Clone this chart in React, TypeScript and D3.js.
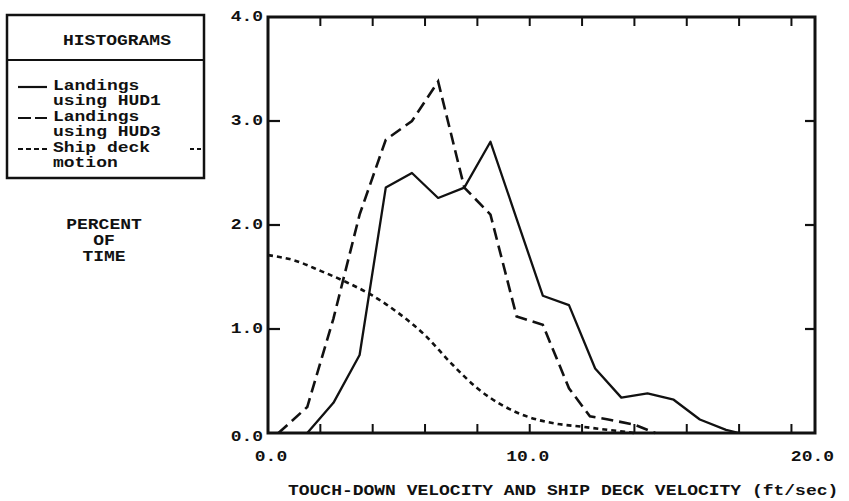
import React from "react";
import * as d3 from "d3";

// HUD1 landings (solid), bin centres
const hud1X = [1.5, 2.5, 3.5, 4.5, 5.5, 6.5, 7.5, 8.5, 9.5, 10.5, 11.5, 12.5, 13.5, 14.5, 15.5, 16.5, 17.5, 18.0];
const hud1Y = [0, 0.29, 0.75, 2.36, 2.5, 2.26, 2.36, 2.8, 2.06, 1.32, 1.23, 0.62, 0.34, 0.38, 0.32, 0.13, 0.03, 0];

// HUD3 landings (dashed)
const hud3X = [0.4, 1.5, 2.5, 3.5, 4.5, 5.5, 6.5, 7.5, 8.5, 9.5, 10.5, 11.5, 12.3, 13.0, 14.0, 14.8];
const hud3Y = [0, 0.25, 1.1, 2.1, 2.82, 3.0, 3.38, 2.36, 2.1, 1.12, 1.04, 0.43, 0.16, 0.13, 0.08, 0];

// Ship deck motion (dotted)
const deckX = [0, 1, 2, 3, 4, 5, 6, 7, 8, 9, 10, 11, 12, 13, 14];
const deckY = [1.71, 1.66, 1.56, 1.45, 1.32, 1.15, 0.94, 0.67, 0.43, 0.26, 0.15, 0.09, 0.06, 0.03, 0.0];

const yTickValues = [1, 2, 3];
const yLabelValues = [0, 1, 2, 3, 4];
const yLabels = ["0.0", "1.0", "2.0", "3.0", "4.0"];
const xTickValues = [2, 4, 6, 8, 10, 12, 14, 16, 18, 20];
const xLabelValues = [0, 10, 20];
const xLabels = ["0.0", "10.0", "20.0"];

const legendTitle = "HISTOGRAMS";
const legendLines = ["Landings", "using HUD1", "Landings", "using HUD3", "Ship deck", "motion"];
const yTitle = ["PERCENT", "OF", "TIME"];
const xTitle = "TOUCH-DOWN VELOCITY AND SHIP DECK VELOCITY (ft/sec)";

const FONT = "'Liberation Mono', 'DejaVu Sans Mono', monospace";
const SY = 0.8;

type TProps = { x: number; y: number; anchor?: "start" | "middle" | "end"; children: React.ReactNode };
function T({ x, y, anchor = "start", children }: TProps) {
  return (
    <g transform={`translate(${x},${y}) scale(1,${SY})`}>
      <text
        x={0}
        y={0}
        textAnchor={anchor}
        dominantBaseline="central"
        style={{ fontFamily: FONT, fontWeight: 700, fontSize: 18, fill: "#111" }}
      >
        {children}
      </text>
    </g>
  );
}

export default function App() {
  const x = d3.scaleLinear().domain([0, 20.9]).range([268, 815]);
  const y = d3.scaleLinear().domain([0, 4]).range([433, 17]);
  const [x0, x1] = x.range();
  const [yb, yt] = y.range();

  const mk = (xs: number[], ys: number[], curve: d3.CurveFactory) =>
    d3
      .line<number>()
      .x((_, i) => x(xs[i]))
      .y((_, i) => y(ys[i]))
      .curve(curve)(ys) || "";

  const hud1Path = mk(hud1X, hud1Y, d3.curveLinear);
  const hud3Path = mk(hud3X, hud3Y, d3.curveLinear);
  const deckPath = mk(deckX, deckY, d3.curveMonotoneX);

  const rowY = [86, 101.5, 117, 132.5, 148, 163.5];

  return (
    <svg width={849} height={501} style={{ position: "absolute", left: 0, top: 0, background: "#fff" }}>
      <rect x={0} y={0} width={849} height={501} fill="#fff" />
      {/* Legend box */}
      <rect x={7} y={15} width={197} height={163} fill="none" stroke="#111" strokeWidth={2.5} />
      <line x1={7} x2={204} y1={60} y2={60} stroke="#111" strokeWidth={2} />
      <T x={117} y={41} anchor="middle">{legendTitle}</T>
      {legendLines.map((t, i) => (
        <T key={i} x={53} y={rowY[i]}>{t}</T>
      ))}
      <line x1={18} x2={47} y1={rowY[0] + 1} y2={rowY[0] + 1} stroke="#111" strokeWidth={2.2} />
      <line x1={18} x2={47} y1={rowY[2] + 1} y2={rowY[2] + 1} stroke="#111" strokeWidth={2.2} strokeDasharray="13 4" />
      <line x1={18} x2={48} y1={rowY[4] + 1} y2={rowY[4] + 1} stroke="#111" strokeWidth={2.2} strokeDasharray="5 3" />
      <line x1={190} x2={201} y1={rowY[4] + 1} y2={rowY[4] + 1} stroke="#111" strokeWidth={2} strokeDasharray="4 3" />

      {/* Y title */}
      {yTitle.map((t, i) => (
        <T key={i} x={104} y={225 + i * 16} anchor="middle">{t}</T>
      ))}

      {/* Frame */}
      <rect x={x0} y={yt} width={x1 - x0} height={yb - yt} fill="none" stroke="#111" strokeWidth={3} />

      {/* ticks */}
      {xTickValues.map((v) => (
        <g key={v}>
          <line x1={x(v)} x2={x(v)} y1={yt} y2={yt + 9} stroke="#111" strokeWidth={2} />
          <line x1={x(v)} x2={x(v)} y1={yb} y2={yb - 9} stroke="#111" strokeWidth={2} />
        </g>
      ))}
      {yTickValues.map((v) => (
        <g key={v}>
          <line x1={x0} x2={x0 + 12} y1={y(v)} y2={y(v)} stroke="#111" strokeWidth={2.2} />
          <line x1={x1} x2={x1 - 10} y1={y(v)} y2={y(v)} stroke="#111" strokeWidth={2.2} />
        </g>
      ))}

      {/* tick labels */}
      {yLabelValues.map((v, i) => (
        <T key={v} x={263} y={y(v) + (v === 0 ? 4 : 0)} anchor="end">{yLabels[i]}</T>
      ))}
      {xLabelValues.map((v, i) => (
        <T key={v} x={x(v) + (v === 20 ? 21 : v === 10 ? -2 : 3)} y={457} anchor="middle">{xLabels[i]}</T>
      ))}
      <T x={288} y={491}>{xTitle}</T>

      {/* series */}
      <path d={deckPath} fill="none" stroke="#111" strokeWidth={2.6} strokeDasharray="5 4" />
      <path d={hud3Path} fill="none" stroke="#111" strokeWidth={2.6} strokeDasharray="12 6" />
      <path d={hud1Path} fill="none" stroke="#111" strokeWidth={2.3} strokeLinejoin="round" />
    </svg>
  );
}
